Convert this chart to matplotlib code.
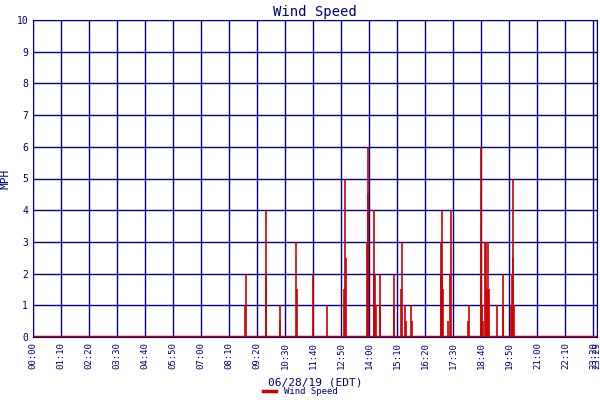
import matplotlib
matplotlib.use('Agg')
import matplotlib.pyplot as plt

# minutes after midnight and wind speed (MPH) of each nonzero sample
minutes = [530, 531, 581, 582, 616, 618, 658, 660, 699, 734,
           777, 779, 781, 834, 836, 838, 851, 853, 855, 857, 866, 868,
           901, 903, 920, 921, 930, 932, 945, 947,
           1019, 1020, 1021, 1023, 1025, 1038, 1041, 1044, 1086, 1088,
           1118, 1120, 1122, 1124, 1130, 1132, 1134, 1136, 1138, 1160,
           1173, 1175, 1194, 1196, 1198, 1200, 1202]
speed = [1, 2, 2, 4, 0.5, 1, 3, 1.5, 2, 1,
         1.5, 5, 2.5, 3, 6, 4.5, 4, 2, 2, 1, 2, 1,
         2, 1, 1.5, 3, 1, 0.5, 1, 0.5,
         3, 2, 2, 4, 1.5, 0.5, 2, 4, 0.5, 1,
         3, 6, 1, 0.5, 3, 3, 1.5, 3, 1.5, 1,
         2, 1, 1, 2, 2.5, 5, 1]

tick_min = list(range(0, 1401, 70)) + [1409]
tick_lab = ['%02d:%02d' % (m // 60, m % 60) for m in tick_min]
x_end = 1409

navy = '#000080'
red = '#cc0000'
plt.rcParams['font.family'] = 'DejaVu Sans Mono'

fig = plt.figure(figsize=(6, 4), dpi=100)
ax = fig.add_axes([33/600, 63/400, 564/600, 317/400])
ax.vlines(minutes, 0, speed, color=red, lw=1.2)
ax.plot([0, x_end], [0, 0], color=red, lw=2.5, label='Wind Speed')
ax.set_xlim(0, x_end)
ax.set_ylim(0, 10)
ax.set_xticks(tick_min)
ax.set_xticklabels(tick_lab, rotation=90, fontsize=6.5, color=navy)
ax.set_yticks(range(11))
ax.tick_params(axis='y', labelsize=7, colors=navy, length=0)
ax.tick_params(axis='x', colors=navy, length=0)
ax.grid(True, color=navy, lw=1)
ax.set_axisbelow(True)
for s in ax.spines.values():
    s.set_color(navy)
ax.set_title('Wind Speed', color=navy, fontsize=10, pad=3)
ax.set_ylabel('MPH', color=navy, fontsize=8)
ax.set_xlabel('06/28/19 (EDT)', color=navy, fontsize=8, labelpad=6)
fig.legend(loc='lower center', bbox_to_anchor=(0.5, -0.01), frameon=False,
           fontsize=6.5, handlelength=1.5, labelcolor=navy)
fig.savefig('out.png', dpi=100)
